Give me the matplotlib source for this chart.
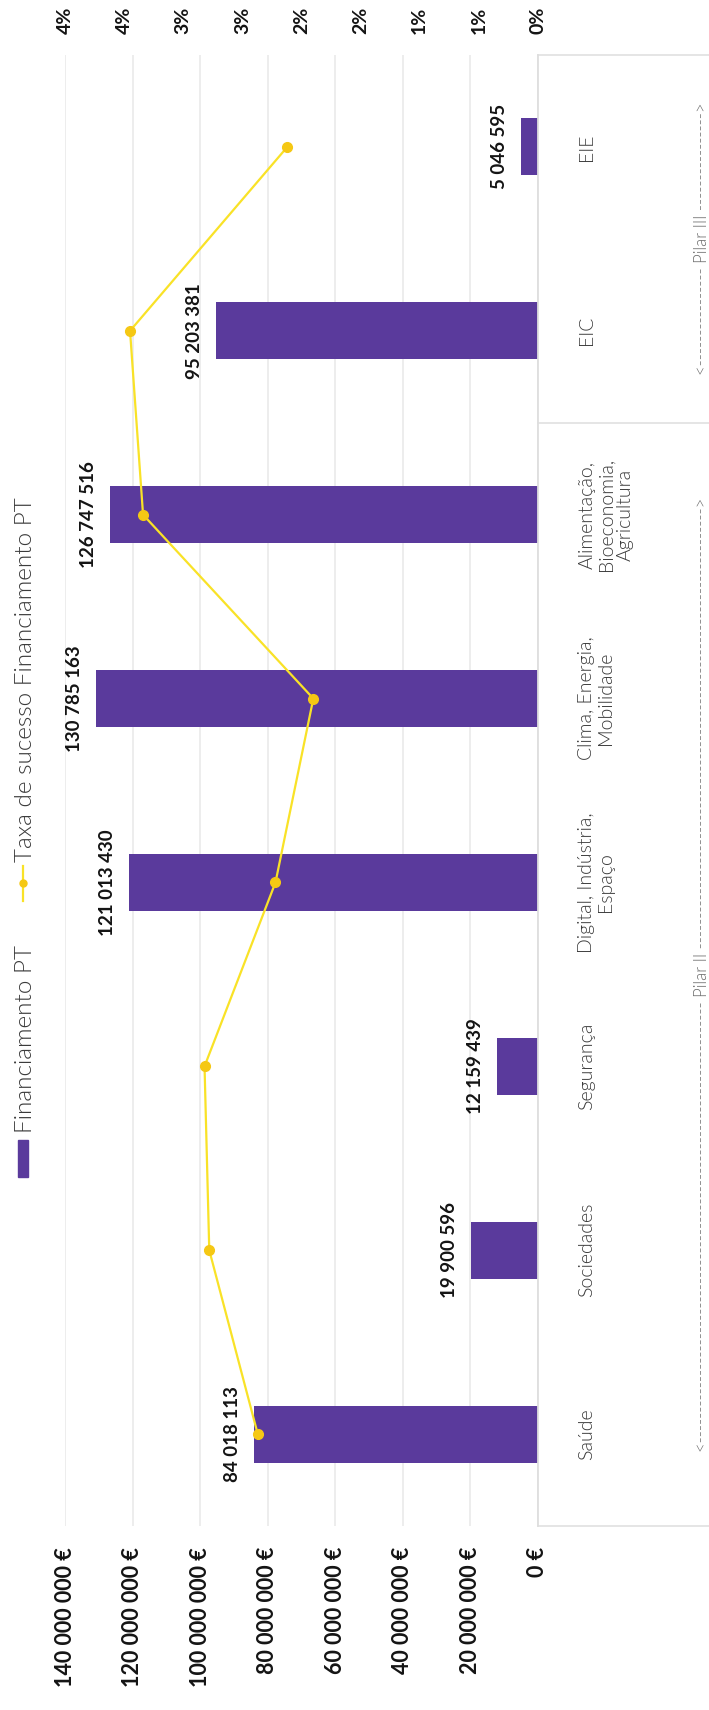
import matplotlib
matplotlib.use("Agg")
import matplotlib.pyplot as plt
import matplotlib.transforms as mtransforms
from matplotlib.lines import Line2D
from matplotlib.patches import Rectangle

plt.rcParams['font.family'] = ['Lato', 'DejaVu Sans']

# ---------------- DADOS ----------------
categorias = ["Saúde", "Sociedades", "Segurança", "Digital, Indústria,\nEspaço",
              "Clima, Energia,\nMobilidade", "Alimentação,\nBioeconomia,\nAgricultura",
              "EIC", "EIE"]
financiamento_pt = [84018113, 19900596, 12159439, 121013430, 130785163,
                    126747516, 95203381, 5046595]
taxa_sucesso = [2.37, 2.78, 2.82, 2.22, 1.90, 3.34, 3.45, 2.12]   # %
pilares = ["Pilar II", "Pilar III"]
pilar_inicio = [0, 6]   # primeira categoria de cada pilar
pilar_fim = [5, 7]      # ultima categoria de cada pilar
ticks_eur = [0, 20000000, 40000000, 60000000, 80000000, 100000000, 120000000, 140000000]
ticks_pct = [0, 0.5, 1, 1.5, 2, 2.5, 3, 3.5, 4]
labels_pct = ["0%", "1%", "1%", "2%", "2%", "3%", "3%", "4%", "4%"]
legenda = ["Financiamento PT", "Taxa de sucesso Financiamento PT"]

# ---------------- ESTILO ----------------
ROXO = "#5a3a9c"
AMARELO = "#f9e227"
AMARELO_PONTO = "#f5c814"
PRETO = "#141414"
CINZA = "#3a3a3a"
GRELHA = "#ececec"
LEVE = 300          # Lato Light
tracos = [72, 16]   # nº de hifens de cada lado do nome do pilar

W, H = 709, 1710
fig = plt.figure(figsize=(W / 100, H / 100), dpi=100)
ax = fig.add_axes([65 / W, 1 - 1526 / H, (538 - 65) / W, (1526 - 55) / H])

y = list(range(len(categorias)))
ax.barh(y, financiamento_pt, height=0.31, color=ROXO, zorder=2)
ax.set_xlim(ticks_eur[-1], 0)
ax.set_ylim(-0.5, len(categorias) - 0.5)

#--- eixo dos euros (em baixo)
ax.tick_params(axis='x', length=0, pad=15)
ax.set_xticks(ticks_eur)
ax.set_xticklabels([f"{t:,} €".replace(",", " ") for t in ticks_eur], rotation=90,
                   fontsize=15.5, fontweight='bold', color=PRETO)
ax.grid(axis='x', color=GRELHA, lw=1.3, zorder=0)
ax.set_axisbelow(True)
for s in ['top', 'left', 'bottom']:
    ax.spines[s].set_visible(False)
ax.spines['right'].set_color("#dedede")
ax.spines['right'].set_linewidth(1.3)

#--- categorias (a direita)
ax.yaxis.tick_right()
ax.tick_params(axis='y', length=0, pad=29)
ax.set_yticks(y)
ax.set_yticklabels(categorias, rotation=90, ha='left', va='center', multialignment='center',
                   fontsize=14, fontweight=LEVE, color=CINZA, linespacing=1.15)

#--- caixa das categorias e separadores dos pilares
trans = mtransforms.blended_transform_factory(ax.transAxes, ax.transData)
x_fim = (W - 65) / (538 - 65)
linhas = [pilar_inicio[0] - 0.5] + [p + 0.5 for p in pilar_fim]
for yy in linhas:
    ax.plot([1, x_fim], [yy, yy], transform=trans, color="#e3e3e3", lw=1.3, clip_on=False)

x_pilar = (702 - 65) / (538 - 65)
for nome, i0, i1, n in zip(pilares, pilar_inicio, pilar_fim, tracos):
    txt = "<" + "-" * n + " " + nome + " " + "-" * n + ">"
    ax.text(x_pilar, (i0 + i1) / 2, txt, transform=trans, rotation=90, ha='center',
            va='center', fontsize=12, fontweight=LEVE, color="#6e6e6e", clip_on=False)

#--- valores das barras
for yi, v in zip(y, financiamento_pt):
    ax.annotate(f"{v:,}".replace(",", " "), xy=(v, yi), xytext=(-13, 0),
                textcoords='offset pixels', rotation=90, ha='right', va='center',
                fontsize=13.5, fontweight='bold', color=PRETO)

#--- taxa de sucesso (eixo de cima)
ax2 = ax.twiny()
ax2.set_xlim(ticks_pct[-1], 0)
ax2.plot(taxa_sucesso, y, color=AMARELO, lw=1.6, marker='o', ms=7,
         mfc=AMARELO_PONTO, mec=AMARELO_PONTO, zorder=3)
ax2.tick_params(axis='x', length=0, pad=15)
ax2.set_xticks(ticks_pct)
ax2.set_xticklabels(labels_pct, rotation=90, fontsize=14, fontweight='bold', color=PRETO)
for s in ax2.spines.values():
    s.set_visible(False)

#--- legenda (desenhada a mao, rodada)
fig.add_artist(Rectangle((18 / W, 1 - 1177 / H), 10 / W, 37 / H,
                         transform=fig.transFigure, color=ROXO))
fig.text(26 / W, 1 - 1133 / H, legenda[0], rotation=90, ha='center', va='bottom',
         fontsize=17.5, fontweight=LEVE, color=CINZA)
fig.add_artist(Line2D([23 / W, 23 / W], [1 - 901 / H, 1 - 866 / H],
                      transform=fig.transFigure, color=AMARELO, lw=1.6))
fig.add_artist(Line2D([23 / W], [1 - 883 / H], transform=fig.transFigure,
                      marker='o', ms=5, color=AMARELO_PONTO))
fig.text(26 / W, 1 - 862 / H, legenda[1], rotation=90, ha='center', va='bottom',
         fontsize=17.5, fontweight=LEVE, color=CINZA)

fig.savefig("out.png", dpi=100, facecolor="white")
